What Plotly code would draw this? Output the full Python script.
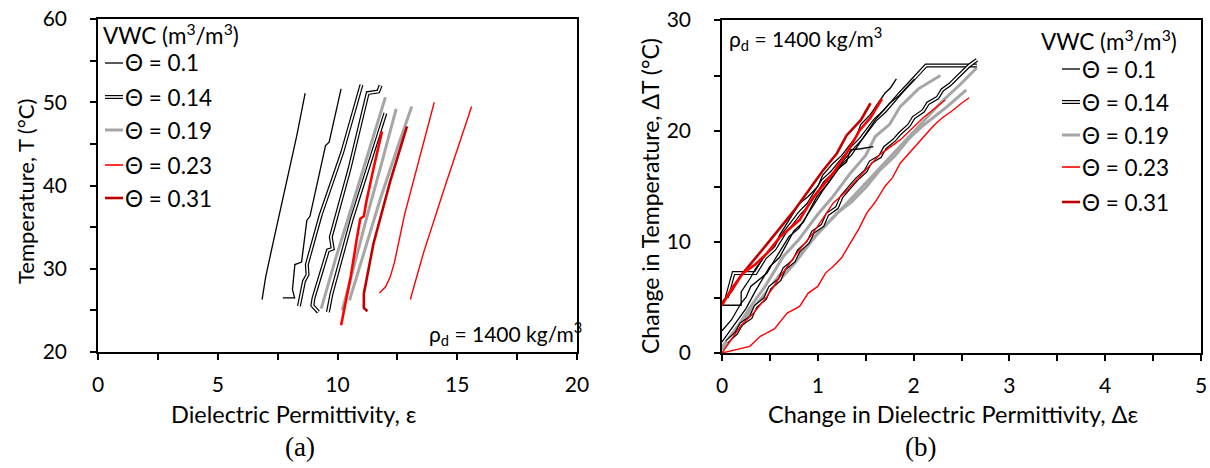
import plotly.graph_objects as go

W, H = 1210, 468
FONT = "Lato"

# ---------------- data: panel (a)  eps vs T ----------------
a_vwc01_1_eps = [6.85, 7.0, 7.3, 7.6, 7.95, 8.3, 8.65]
a_vwc01_1_T = [26.3, 29.0, 33.0, 37.0, 41.5, 46.0, 51.1]
a_vwc01_2_eps = [7.72, 8.21, 8.12, 8.22, 8.5, 8.72, 8.85, 9.5, 9.65, 10.15]
a_vwc01_2_T = [26.5, 26.5, 27.5, 30.5, 30.8, 35.8, 36.3, 44.8, 45.2, 51.6]

a_vwc014_1_eps = [8.39, 8.6, 8.75, 8.72, 9.3, 10.2, 11.0]
a_vwc014_1_T = [25.5, 28.5, 29.3, 30.5, 36.5, 44.0, 52.1]
a_vwc014_2_eps = [9.2, 8.95, 9.0, 9.6, 9.8, 9.72, 10.5, 11.26, 11.7, 11.8]
a_vwc014_2_T = [24.8, 25.6, 26.5, 32.2, 32.4, 33.8, 42.0, 51.1, 51.3, 52.0]
a_vwc014_3_eps = [9.6, 9.75, 10.6, 11.3, 12.0]
a_vwc014_3_T = [24.8, 27.0, 36.0, 42.5, 48.7]

a_vwc019_1_eps = [9.32, 9.9, 10.6, 11.3, 12.0]
a_vwc019_1_T = [25.2, 31.0, 37.5, 44.0, 50.6]
a_vwc019_2_eps = [10.2, 10.7, 11.3, 11.9, 12.45]
a_vwc019_2_T = [25.0, 30.5, 37.0, 43.3, 49.2]
a_vwc019_3_eps = [10.5, 11.1, 11.8, 12.5, 13.1]
a_vwc019_3_T = [26.2, 32.0, 38.5, 44.5, 49.5]

a_vwc023_1_eps = [10.15, 10.3, 10.55, 10.8, 10.95, 11.1, 11.2, 11.5, 11.86]
a_vwc023_1_T = [23.2, 25.5, 29.0, 33.5, 36.0, 36.3, 38.0, 42.0, 46.5]
a_vwc023_2_eps = [11.75, 12.0, 12.2, 12.38, 12.8, 13.4, 14.04]
a_vwc023_2_T = [27.1, 27.8, 29.0, 30.8, 36.5, 43.0, 50.0]
a_vwc023_3_eps = [13.04, 13.6, 14.5, 15.6]
a_vwc023_3_T = [26.3, 32.0, 40.0, 49.5]

a_vwc031_1_eps = [11.25, 11.1, 11.1, 11.5, 12.2, 12.9]
a_vwc031_1_T = [24.9, 25.3, 27.0, 33.0, 40.5, 47.1]

# ---------------- data: panel (b)  d_eps vs dT ----------------
b_vwc01_1_de = [0.0, 0.2, 0.2, 0.3, 0.35, 0.47, 0.55, 0.6, 0.7, 0.81, 0.9, 1.0, 1.05, 1.16, 1.25,
                1.4, 1.45, 1.55, 1.62, 1.7, 1.76, 1.82]
b_vwc01_1_dT = [4.3, 4.3, 5.5, 6.8, 7.6, 9.0, 9.6, 10.6, 12.0, 13.5, 14.1, 15.0, 16.0, 17.1, 17.8,
                19.5, 20.6, 21.5, 22.4, 23.4, 23.9, 24.7]
b_vwc01_2_de = [0.0, 0.1, 0.2, 0.25, 0.3, 0.47, 0.55, 0.7, 0.8, 0.99, 1.05, 1.2, 1.3, 1.34, 1.45, 1.58]
b_vwc01_2_dT = [2.0, 3.0, 4.5, 5.0, 6.0, 7.2, 8.4, 10.5, 11.2, 13.8, 14.6, 16.5, 17.2, 18.3, 18.4, 18.6]
b_vwc01_3_de = [0.0, 0.12, 0.25, 0.35, 0.5, 0.6, 0.75, 0.85, 0.99, 1.1, 1.25, 1.35, 1.51, 1.6, 1.75,
                1.85, 2.01]
b_vwc01_3_dT = [1.0, 2.4, 4.0, 5.6, 7.8, 8.6, 11.0, 11.8, 14.1, 15.2, 17.0, 17.8, 19.8, 21.0, 22.5,
                23.2, 24.7]

b_vwc014_1_de = [0.05, 0.12, 0.35, 0.45, 0.55, 0.65, 0.81, 0.9, 1.05, 1.15, 1.34, 1.45, 1.6, 1.7, 1.86,
                 1.95, 2.13, 2.4, 2.66]
b_vwc014_1_dT = [5.0, 7.2, 7.2, 8.6, 9.4, 10.8, 12.6, 13.4, 15.5, 16.3, 18.3, 19.3, 21.0, 21.8, 23.4,
                 24.2, 25.9, 25.9, 25.9]
b_vwc014_2_de = [0.05, 0.15, 0.2, 0.3, 0.35, 0.45, 0.5, 0.6, 0.65, 0.75, 0.8, 0.9, 0.95, 1.05, 1.1,
                 1.2, 1.25, 1.34, 1.4, 1.5, 1.55, 1.65, 1.7, 1.8, 1.86, 1.95, 2.0, 2.1, 2.15, 2.25,
                 2.3, 2.38, 2.45, 2.5, 2.58, 2.66]
b_vwc014_2_dT = [1.0, 1.8, 2.6, 3.2, 4.2, 4.9, 5.9, 6.6, 7.6, 8.3, 9.2, 10.0, 10.9, 11.5, 12.5,
                 13.1, 14.1, 15.0, 15.6, 16.4, 17.2, 17.7, 18.5, 19.2, 19.8, 20.5, 21.2, 21.8, 22.5, 23.0,
                 23.7, 24.2, 24.8, 25.3, 25.9, 26.4]

b_vwc019_1_de = [0.0, 0.15, 0.3, 0.45, 0.64, 0.8, 1.0, 1.15, 1.34, 1.5, 1.6, 1.75, 1.86, 2.05, 2.28]
b_vwc019_1_dT = [0.5, 2.2, 4.2, 6.0, 8.7, 10.2, 12.5, 14.0, 16.2, 17.8, 19.5, 20.6, 22.2, 23.8, 25.0]
b_vwc019_2_de = [0.0, 0.2, 0.4, 0.6, 0.81, 1.0, 1.2, 1.35, 1.51, 1.65, 1.8, 1.95, 2.1, 2.35, 2.55]
b_vwc019_2_dT = [0.5, 2.8, 4.8, 7.0, 9.0, 10.8, 12.6, 13.6, 15.0, 16.5, 17.7, 19.3, 20.5, 22.2, 23.7]
b_vwc019_3_de = [0.0, 0.25, 0.5, 0.75, 1.0, 1.25, 1.5, 1.7, 1.9, 2.1, 2.3, 2.5, 2.66]
b_vwc019_3_dT = [0.3, 3.0, 5.6, 8.0, 10.8, 13.0, 15.3, 17.1, 19.0, 20.8, 22.7, 24.3, 25.7]

b_vwc023_1_de = [0.0, 0.15, 0.29, 0.4, 0.55, 0.68, 0.81, 0.9, 1.0, 1.08, 1.16, 1.25, 1.35, 1.43, 1.51,
                 1.6, 1.7, 1.78, 1.86, 1.95, 2.05, 2.13, 2.21, 2.3, 2.4, 2.5, 2.58]
b_vwc023_1_dT = [0.0, 0.3, 0.6, 1.5, 2.2, 3.6, 4.2, 5.4, 6.0, 7.2, 7.8, 8.6, 10.0, 11.2, 12.6,
                 13.6, 15.0, 15.8, 17.1, 18.0, 19.0, 19.8, 20.5, 21.2, 21.8, 22.5, 23.0]
b_vwc023_2_de = [0.0, 0.1, 0.2, 0.33, 0.47, 0.6, 0.8, 0.95, 1.16, 1.3, 1.5, 1.65, 1.86, 2.1, 2.33]
b_vwc023_2_dT = [0.0, 1.2, 2.5, 3.6, 5.1, 6.8, 9.2, 10.8, 13.5, 14.6, 16.5, 17.9, 19.2, 21.2, 22.8]
b_vwc023_3_de = [0.0, 0.1, 0.22, 0.35, 0.47, 0.6, 0.81, 0.95, 1.16, 1.3, 1.44, 1.55, 1.67]
b_vwc023_3_dT = [4.3, 5.8, 7.2, 8.0, 9.0, 10.4, 12.0, 14.0, 16.2, 18.0, 20.1, 21.2, 22.9]

b_vwc031_1_de = [0.0, 0.1, 0.2, 0.3, 0.45, 0.6, 0.75, 0.9, 1.05, 1.2, 1.3, 1.45, 1.55]
b_vwc031_1_dT = [4.5, 5.6, 7.0, 8.0, 9.6, 11.2, 12.8, 14.6, 16.4, 18.0, 19.6, 21.0, 22.5]

vwc_labels = ["Θ = 0.1", "Θ = 0.14", "Θ = 0.19", "Θ = 0.23", "Θ = 0.31"]

BLACK = "#000000"
GRAY = "#A6A6A6"
RED = "#FF0000"
DRED = "#C00000"

fig = go.Figure()


def add(x, y, style, xa, ya):
    kw = dict(mode="lines", showlegend=False, hoverinfo="skip", xaxis=xa, yaxis=ya)
    if style == "black":
        fig.add_trace(go.Scatter(x=x, y=y, line=dict(color=BLACK, width=1.3), **kw))
    elif style == "double":
        fig.add_trace(go.Scatter(x=x, y=y, line=dict(color=BLACK, width=4), **kw))
        fig.add_trace(go.Scatter(x=x, y=y, line=dict(color="white", width=1.6), **kw))
    elif style == "gray":
        fig.add_trace(go.Scatter(x=x, y=y, line=dict(color=GRAY, width=3), **kw))
    elif style == "red":
        fig.add_trace(go.Scatter(x=x, y=y, line=dict(color=RED, width=1.4), **kw))
    elif style == "redthick":
        fig.add_trace(go.Scatter(x=x, y=y, line=dict(color=RED, width=2.6), **kw))
    elif style == "dred":
        fig.add_trace(go.Scatter(x=x, y=y, line=dict(color=DRED, width=2.6), **kw))


# panel (a)
add(a_vwc01_1_eps, a_vwc01_1_T, "black", "x", "y")
add(a_vwc01_2_eps, a_vwc01_2_T, "black", "x", "y")
add(a_vwc019_1_eps, a_vwc019_1_T, "gray", "x", "y")
add(a_vwc019_2_eps, a_vwc019_2_T, "gray", "x", "y")
add(a_vwc019_3_eps, a_vwc019_3_T, "gray", "x", "y")
add(a_vwc014_1_eps, a_vwc014_1_T, "double", "x", "y")
add(a_vwc014_2_eps, a_vwc014_2_T, "double", "x", "y")
add(a_vwc014_3_eps, a_vwc014_3_T, "double", "x", "y")
add(a_vwc023_1_eps, a_vwc023_1_T, "redthick", "x", "y")
add(a_vwc023_2_eps, a_vwc023_2_T, "red", "x", "y")
add(a_vwc023_3_eps, a_vwc023_3_T, "red", "x", "y")
add(a_vwc031_1_eps, a_vwc031_1_T, "dred", "x", "y")

# panel (b)
add(b_vwc019_1_de, b_vwc019_1_dT, "gray", "x2", "y2")
add(b_vwc019_2_de, b_vwc019_2_dT, "gray", "x2", "y2")
add(b_vwc019_3_de, b_vwc019_3_dT, "gray", "x2", "y2")
add(b_vwc014_1_de, b_vwc014_1_dT, "double", "x2", "y2")
add(b_vwc014_2_de, b_vwc014_2_dT, "double", "x2", "y2")
add(b_vwc01_1_de, b_vwc01_1_dT, "black", "x2", "y2")
add(b_vwc01_2_de, b_vwc01_2_dT, "black", "x2", "y2")
add(b_vwc01_3_de, b_vwc01_3_dT, "black", "x2", "y2")
add(b_vwc023_1_de, b_vwc023_1_dT, "red", "x2", "y2")
add(b_vwc023_2_de, b_vwc023_2_dT, "red", "x2", "y2")
add(b_vwc031_1_de, b_vwc031_1_dT, "dred", "x2", "y2")
add(b_vwc023_3_de, b_vwc023_3_dT, "redthick", "x2", "y2")


def px(x):
    return x / W


def py(y):
    return 1 - y / H


TICKC = dict(ticks="outside", ticklen=6, tickwidth=1.6, tickcolor="black")
axis_common = dict(
    showline=True, linecolor="black", linewidth=1.6, mirror=True,
    showgrid=False, zeroline=False, automargin=False,
    tickfont=dict(family=FONT, size=21, color="black"), **TICKC,
)

fig.update_layout(
    width=W, height=H,
    margin=dict(l=0, r=0, t=0, b=0, pad=0, autoexpand=False),
    paper_bgcolor="white", plot_bgcolor="white",
    font=dict(family=FONT, color="black"),
    xaxis=dict(domain=[px(98), px(577)], range=[0, 20], dtick=5, tick0=0, ticklabelstandoff=7,
               minor=dict(dtick=2.5, **TICKC), anchor="y", **axis_common),
    yaxis=dict(domain=[py(352), py(19)], range=[20, 60], dtick=10, tick0=0, ticklabelstandoff=19,
               minor=dict(dtick=5, **TICKC), anchor="x", **axis_common),
    xaxis2=dict(domain=[px(722), px(1201)], range=[0, 5], dtick=1, tick0=0, ticklabelstandoff=7,
                minor=dict(dtick=0.5, **TICKC), anchor="y2", **axis_common),
    yaxis2=dict(domain=[py(353), py(20)], range=[0, 30], dtick=10, tick0=0, ticklabelstandoff=19,
                minor=dict(dtick=5, **TICKC), anchor="x2", **axis_common),
)

ann = []
shapes = []


def text(x, y, s, size=21, xanchor="center", family=FONT, angle=0):
    ann.append(dict(x=px(x), y=py(y), xref="paper", yref="paper", text=s, showarrow=False,
                    xanchor=xanchor, yanchor="middle", textangle=angle,
                    font=dict(family=family, size=size, color="black")))


# axis titles
text(294, 414, "Dielectric Permittivity, ε", size=23.5)
text(25, 192, "Temperature, T (°C)", size=22)
ann[-1]["textangle"] = -90
text(953, 414, "Change in Dielectric Permittivity, Δε", size=23.5)
text(650, 196, "Change in Temperature, ΔT (°C)", size=23)
ann[-1]["textangle"] = -90
text(300, 447, "(a)", size=27, family="Liberation Serif")
text(920, 447, "(b)", size=27, family="Liberation Serif")

# density notes
text(427, 333, "ρ<sub>d</sub> = 1400 kg/m<sup>3</sup>", size=21, xanchor="left")
text(727, 38, "ρ<sub>d</sub> = 1400 kg/m<sup>3</sup>", size=21, xanchor="left")

# legends (manual, to reproduce the double-line sample)
styles = ["black", "double", "gray", "red", "dred"]


def legend(x_title, y_title, x_line0, x_line1, ys):
    text(x_title, y_title, "VWC (m<sup>3</sup>/m<sup>3</sup>)", size=22.5, xanchor="left")
    for lab, st, yy in zip(vwc_labels, styles, ys):
        def ln(color, width):
            shapes.append(dict(type="line", xref="paper", yref="paper",
                               x0=px(x_line0), x1=px(x_line1), y0=py(yy), y1=py(yy),
                               line=dict(color=color, width=width)))
        if st == "black":
            ln(BLACK, 1.3)
        elif st == "double":
            ln(BLACK, 4)
            ln("white", 1.6)
        elif st == "gray":
            ln(GRAY, 3)
        elif st == "red":
            ln(RED, 1.6)
        elif st == "dred":
            ln(DRED, 2.6)
        text(x_line1, yy, lab, size=22.5, xanchor="left")


legend(101, 34, 105, 123, [63, 97, 130, 165, 198])
legend(1039, 40, 1062, 1080, [69, 102, 135, 167, 202])

fig.update_layout(annotations=ann, shapes=shapes)
fig.write_html("out.html", config={"displayModeBar": False},
               post_script="document.body.style.margin='0';")
